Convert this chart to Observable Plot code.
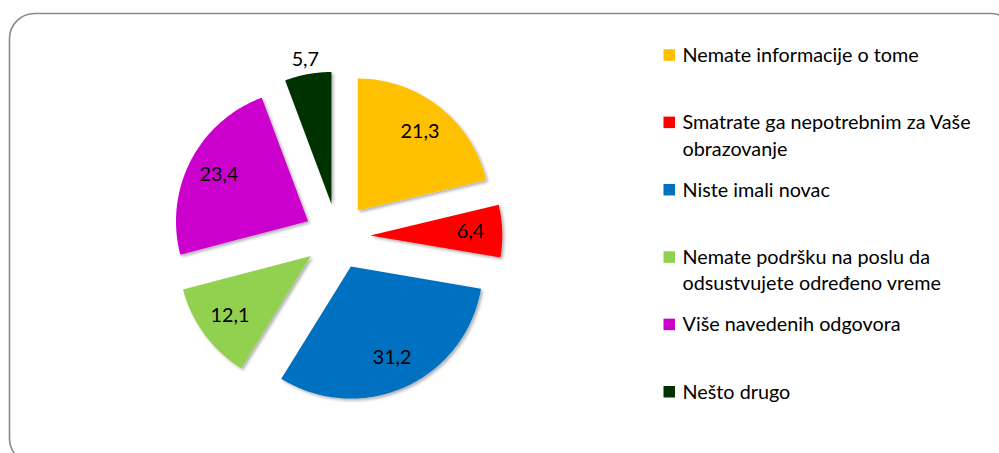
<!DOCTYPE html>
<html>
<head>
<meta charset="utf-8">
<script src="https://cdn.jsdelivr.net/npm/d3@7"></script>
<script src="https://cdn.jsdelivr.net/npm/@observablehq/plot@0.6"></script>
<style>
  html, body { margin: 0; padding: 0; background: #fff; }
  #chart { width: 999px; height: 453px; overflow: hidden; }
</style>
</head>
<body>
<div id="chart"></div>
<script>
// ---- data ----
const categories = [
  "Nemate informacije o tome",
  "Smatrate ga nepotrebnim za Vaše obrazovanje",
  "Niste imali novac",
  "Nemate podršku na poslu da odsustvujete određeno vreme",
  "Više navedenih odgovora",
  "Nešto drugo"
];
const legendLabels = [
  "Nemate informacije o tome",
  "Smatrate ga nepotrebnim za Vaše\nobrazovanje",
  "Niste imali novac",
  "Nemate podršku na poslu da\nodsustvujete određeno vreme",
  "Više navedenih odgovora",
  "Nešto drugo"
];
const values = [21.3, 6.4, 31.2, 12.1, 23.4, 5.7];
const colors = ["#FFC000", "#FF0000", "#0070C0", "#92D050", "#CC00CC", "#003300"];

// ---- layout (pixel units through linear scales) ----
const W = 999, H = 453;
const cx = 336.8, cy = 236, R = 132, explode = 33;
const font = "Lato, 'Open Sans', sans-serif";
const fs = 19.8;

const total = d3.sum(values);
let acc = 0;
const slices = values.map((v, i) => {
  const a0 = acc / total * 2 * Math.PI;
  acc += v;
  const a1 = acc / total * 2 * Math.PI;
  const m = (a0 + a1) / 2;
  const ox = cx + explode * Math.sin(m);
  const oy = cy - explode * Math.cos(m);
  const pts = [{x: ox, y: oy, cat: categories[i]}];
  const n = Math.max(8, Math.ceil((a1 - a0) / (Math.PI / 180)));
  for (let k = 0; k <= n; k++) {
    const t = a0 + (a1 - a0) * k / n;
    pts.push({x: ox + R * Math.sin(t), y: oy - R * Math.cos(t), cat: categories[i]});
  }
  const lr = v < 6 ? 1.11 * R : 0.76 * R;
  return {i, v, a0, a1, m, pts,
    label: {x: ox + lr * Math.sin(m), y: oy - lr * Math.cos(m), text: v.toFixed(1).replace(".", ",")}};
});

// legend rows
const legX = 663.5, legSq = 11.5, legTextX = 682, legTop = 55, legStep = 67.35, lineH = 26.6;
const legendRows = categories.map((c, i) => ({i, y: legTop + i * legStep}));
const legendText = legendLabels.flatMap((lab, i) =>
  lab.split("\n").map((line, j) => ({text: line, y: legTop + i * legStep + j * lineH})));

const marks = [
  Plot.frame({rx: 25, ry: 25, stroke: "#8a8a8a", strokeWidth: 1.6, fill: "none",
              insetLeft: 9, insetTop: 13, insetRight: -16, insetBottom: -10}),
  ...slices.map(s => Plot.line(s.pts, {x: "x", y: "y", curve: "linear-closed",
                                       fill: colors[s.i], stroke: "none"})),
  Plot.text(slices.map(s => s.label), {x: "x", y: "y", text: "text",
            fill: "#000", fontSize: fs, fontFamily: font}),
  Plot.rect(legendRows, {x1: legX, x2: legX + legSq,
            y1: d => d.y - legSq / 2, y2: d => d.y + legSq / 2,
            fill: (d) => colors[d.i]}),
  Plot.text(legendText, {x: legTextX, y: "y", text: "text", textAnchor: "start",
            fill: "#000", fontSize: fs, fontFamily: font})
];

const chart = Plot.plot({
  width: W, height: H,
  margin: 0,
  x: {domain: [0, W], range: [0, W], axis: null},
  y: {domain: [0, H], range: [0, H], axis: null},
  color: {type: "identity"},
  style: {fontFamily: font, background: "#fff"},
  marks
});

// soft drop shadow on slices
const svg = d3.select(chart);
const defs = svg.insert("defs", ":first-child");
const f = defs.append("filter").attr("id", "sh").attr("x", "-10%").attr("y", "-10%")
  .attr("width", "130%").attr("height", "130%");
f.append("feDropShadow").attr("dx", 2).attr("dy", 2).attr("stdDeviation", 1.5)
  .attr("flood-color", "#000").attr("flood-opacity", 0.3);
svg.selectAll('g[aria-label="line"]').attr("filter", "url(#sh)");

document.getElementById("chart").appendChild(chart);
</script>
</body>
</html>
